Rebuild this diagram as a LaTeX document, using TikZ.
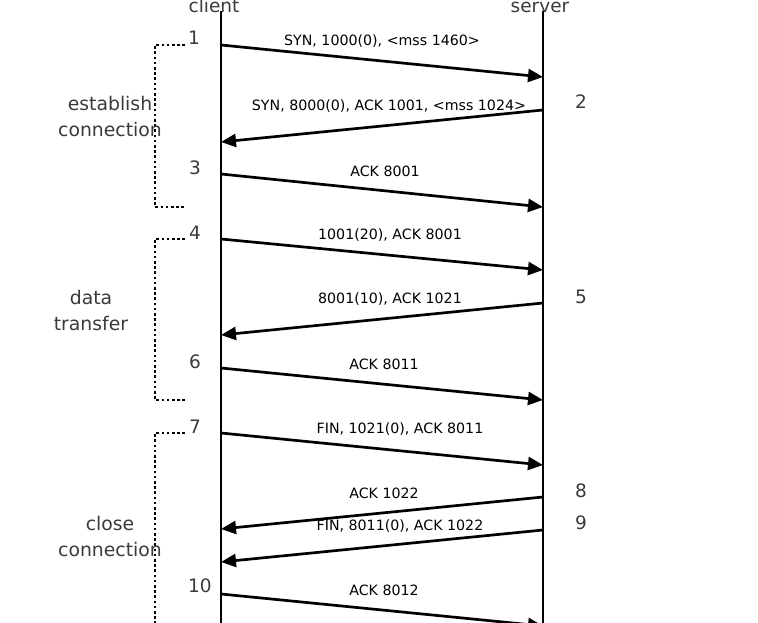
\documentclass[tikz,border=0pt]{standalone}
\usepackage{fontspec}
\setmainfont{DejaVu Sans}
\usepackage{tikz}
\usetikzlibrary{positioning,arrows.meta}
\definecolor{labelgray}{RGB}{58,58,58}

\begin{document}
\begin{tikzpicture}[
  x=1pt,y=-1pt,
  life/.style={line width=2.8pt},
  msg/.style={line width=2.7pt,-{Triangle[length=15pt,width=13pt]}},
  lbl/.style={font=\fontsize{14.2}{16}\selectfont,inner sep=1pt,yshift=19.5pt},
  num/.style={font=\fontsize{18.5}{20}\selectfont,text=labelgray,inner sep=1pt},
  phase/.style={font=\fontsize{18.8}{26}\selectfont,text=labelgray,align=center},
  head/.style={font=\fontsize{18.5}{20}\selectfont,text=labelgray,anchor=base},
  brk/.style={line width=2.7pt,dash pattern=on 2.6pt off 2.6pt}
]
\clip (0,0) rectangle (758,623);

% lifelines
\node[head] (client) at (214,13) {client};
\node[head] (server) at (540,13) {server};
\coordinate (ctop) at (221,11);
\coordinate (cbot) at (221,630);
\coordinate (stop) at (543,11);
\coordinate (sbot) at (543,630);
\draw[life] (ctop) -- (cbot);
\draw[life] (stop) -- (sbot);

% message end points
\coordinate (c1) at (221,45);   \coordinate (s1) at (543,77);
\coordinate (s2) at (543,110);  \coordinate (c2) at (221,142);
\coordinate (c3) at (221,174);  \coordinate (s3) at (543,207);
\coordinate (c4) at (221,239);  \coordinate (s4) at (543,270);
\coordinate (s5) at (543,303);  \coordinate (c5) at (221,335);
\coordinate (c6) at (221,368);  \coordinate (s6) at (543,400);
\coordinate (c7) at (221,433);  \coordinate (s7) at (543,465);
\coordinate (s8) at (543,497);  \coordinate (c8) at (221,529);
\coordinate (s9) at (543,530);  \coordinate (c9) at (221,562);
\coordinate (c10) at (221,594); \coordinate (s10) at (543,626);

% messages
\draw[msg] (c1) -- node[lbl]{SYN, 1000(0), <mss 1460>} (s1);
\draw[msg] (s2) -- node[lbl,xshift=7pt]{SYN, 8000(0), ACK 1001, <mss 1024>} (c2);
\draw[msg] (c3) -- node[lbl,xshift=3pt]{ACK 8001} (s3);
\draw[msg] (c4) -- node[lbl,xshift=8pt]{1001(20), ACK 8001} (s4);
\draw[msg] (s5) -- node[lbl,xshift=8pt]{8001(10), ACK 1021} (c5);
\draw[msg] (c6) -- node[lbl,xshift=2pt]{ACK 8011} (s6);
\draw[msg] (c7) -- node[lbl,xshift=18pt]{FIN, 1021(0), ACK 8011} (s7);
\draw[msg] (s8) -- node[lbl,xshift=2pt]{ACK 1022} (c8);
\draw[msg] (s9) -- node[lbl,xshift=18pt]{FIN, 8011(0), ACK 1022} (c9);
\draw[msg] (c10) -- node[lbl,xshift=2pt]{ACK 8012} (s10);

% step numbers
\node[num,xshift=-27pt,yshift=7pt] (n1) at (c1) {1};
\node[num,xshift=38pt,yshift=8pt] (n2) at (s2) {2};
\node[num,xshift=-26pt,yshift=6pt] (n3) at (c3) {3};
\node[num,xshift=-26pt,yshift=6pt] (n4) at (c4) {4};
\node[num,xshift=38pt,yshift=6pt] (n5) at (s5) {5};
\node[num,xshift=-26pt,yshift=6pt] (n6) at (c6) {6};
\node[num,xshift=-26pt,yshift=6pt] (n7) at (c7) {7};
\node[num,xshift=38pt,yshift=6pt] (n8) at (s8) {8};
\node[num,xshift=38pt,yshift=7pt] (n9) at (s9) {9};
\node[num,xshift=-21pt,yshift=8pt] (n10) at (c10) {10};

% phases
\draw[brk] ([xshift=-36pt]c1) -- ++(-30,0) |- ([xshift=-36pt]c1 |- s3);
\draw[brk] ([xshift=-36pt]c4) -- ++(-30,0) |- ([xshift=-36pt]c4 |- s6);
\draw[brk] ([xshift=-36pt]c7) -- ++(-30,0) -- ++(0,220);
\node[phase] (est) at (110,116) {establish\\connection};
\node[phase] (data) at (91,310) {data\\transfer};
\node[phase] (close) at (110,536) {close\\connection};
\end{tikzpicture}
\end{document}
